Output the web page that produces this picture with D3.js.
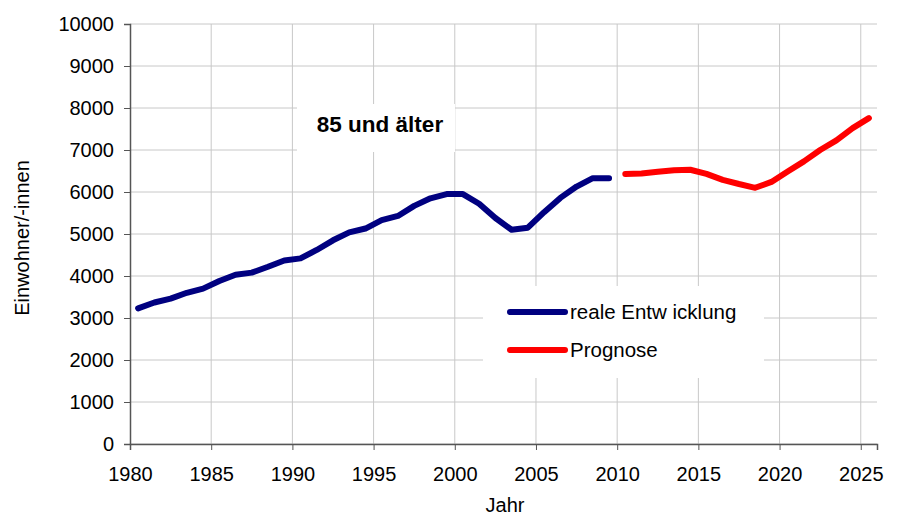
<!DOCTYPE html>
<html>
<head>
<meta charset="utf-8">
<script src="https://cdn.jsdelivr.net/npm/d3@7"></script>
<style>
  body { margin: 0; background: #fff; }
  text { font-family: "Liberation Sans", Arial, sans-serif; }
</style>
</head>
<body>
<div id="chart"></div>
<script>
// =================================== DATA ===================================

const realYears = [1980, 1981, 1982, 1983, 1984, 1985, 1986, 1987, 1988, 1989,
  1990, 1991, 1992, 1993, 1994, 1995, 1996, 1997, 1998, 1999,
  2000, 2001, 2002, 2003, 2004, 2005, 2006, 2007, 2008, 2009]
const realValues = [3230, 3370, 3460, 3600, 3700, 3880, 4030, 4080, 4220, 4370,
  4420, 4620, 4850, 5040, 5130, 5330, 5430, 5670, 5850, 5950,
  5950, 5720, 5380, 5100, 5150, 5520, 5860, 6130, 6330, 6330]

const progYears = [2010, 2011, 2012, 2013, 2014, 2015, 2016, 2017,
  2018, 2019, 2020, 2021, 2022, 2023, 2024, 2025]
const progValues = [6430, 6440, 6480, 6520, 6530, 6430, 6290, 6190,
  6100, 6240, 6490, 6730, 7000, 7230, 7520, 7760]

const xTicks = [1980, 1985, 1990, 1995, 2000, 2005, 2010, 2015, 2020, 2025]
const yTicks = [0, 1000, 2000, 3000, 4000, 5000, 6000, 7000, 8000, 9000, 10000]

const seriesNames = ['reale Entw icklung', 'Prognose']
const seriesColors = ['#000080', '#ff0000']

// =================================== GRAPH SETTINGS ===================================

const width = 899
const height = 518
const margin = { top: 24, right: 22, bottom: 74, left: 130 }
const fontSize = '20px'

const svg = d3.select('#chart').append('svg')
  .attr('width', width)
  .attr('height', height)

// points sit in the middle of each year (category axis between ticks)
const x = d3.scaleLinear()
  .domain([1980, 2026])
  .range([margin.left, width - margin.right])

const y = d3.scaleLinear()
  .domain([0, 10000])
  .range([height - margin.bottom, margin.top])

// =================================== GRID ===================================

svg.append('g')
  .selectAll('line')
  .data(yTicks)
  .enter().append('line')
  .attr('x1', margin.left)
  .attr('x2', width - margin.right)
  .attr('y1', d => y(d))
  .attr('y2', d => y(d))
  .style('stroke', '#c8c8c8')
  .style('stroke-width', 1)

svg.append('g')
  .selectAll('line')
  .data(xTicks.slice(1))
  .enter().append('line')
  .attr('x1', d => x(d))
  .attr('x2', d => x(d))
  .attr('y1', margin.top)
  .attr('y2', height - margin.bottom)
  .style('stroke', '#c8c8c8')
  .style('stroke-width', 1)

// =================================== AXES ===================================

const yAxis = svg.append('g')
  .attr('transform', `translate(${margin.left},0)`)
  .call(d3.axisLeft(y).tickValues(yTicks).tickSize(6).tickPadding(10).tickFormat(d3.format('d')))
yAxis.select('.domain').style('stroke', '#555').style('stroke-width', 1.5)
yAxis.selectAll('.tick line').style('stroke', '#555')
yAxis.selectAll('text').style('font-size', fontSize).style('fill', '#000')

const xAxis = svg.append('g')
  .attr('transform', `translate(0,${height - margin.bottom})`)
  .call(d3.axisBottom(x).tickValues(xTicks).tickSize(6).tickPadding(17).tickFormat(d3.format('d')))
xAxis.select('.domain').style('stroke', '#555').style('stroke-width', 1.5)
xAxis.selectAll('.tick line').style('stroke', '#555')
xAxis.selectAll('text').style('font-size', fontSize).style('fill', '#000')

svg.append('text')
  .attr('x', 505)
  .attr('y', 512)
  .attr('text-anchor', 'middle')
  .style('font-size', fontSize)
  .text('Jahr')

svg.append('text')
  .attr('transform', 'translate(29,238) rotate(-90)')
  .attr('text-anchor', 'middle')
  .style('font-size', fontSize)
  .text('Einwohner/-innen')

// =================================== LINES ===================================

const line = d3.line()
  .x(d => x(d[0] + 0.5))
  .y(d => y(d[1]))

const series = [
  realYears.map((yr, i) => [yr, realValues[i]]),
  progYears.map((yr, i) => [yr, progValues[i]])
]

svg.append('g')
  .selectAll('path')
  .data(series)
  .enter().append('path')
  .attr('d', line)
  .style('fill', 'none')
  .style('stroke', (d, i) => seriesColors[i])
  .style('stroke-width', 6)
  .style('stroke-linecap', 'round')
  .style('stroke-linejoin', 'round')

// =================================== TITLE ===================================

svg.append('rect')
  .attr('x', 297).attr('y', 104)
  .attr('width', 158).attr('height', 48)
  .style('fill', '#fff')

svg.append('text')
  .attr('x', 380)
  .attr('y', 132)
  .attr('text-anchor', 'middle')
  .style('font-size', '22.5px')
  .style('font-weight', 'bold')
  .text('85 und älter')

// =================================== LEGEND ===================================

svg.append('rect')
  .attr('x', 483).attr('y', 286)
  .attr('width', 281).attr('height', 92)
  .style('fill', '#fff')

const legend = svg.append('g')

const legendRows = legend.selectAll('g')
  .data(seriesNames)
  .enter().append('g')
  .attr('transform', (d, i) => `translate(0,${312 + i * 38})`)

legendRows.append('line')
  .attr('x1', 510).attr('x2', 565)
  .attr('y1', 0).attr('y2', 0)
  .style('stroke', (d, i) => seriesColors[i])
  .style('stroke-width', 6)
  .style('stroke-linecap', 'round')

legendRows.append('text')
  .attr('x', 570)
  .attr('y', 7)
  .style('font-size', '20.5px')
  .text(d => d)
</script>
</body>
</html>
